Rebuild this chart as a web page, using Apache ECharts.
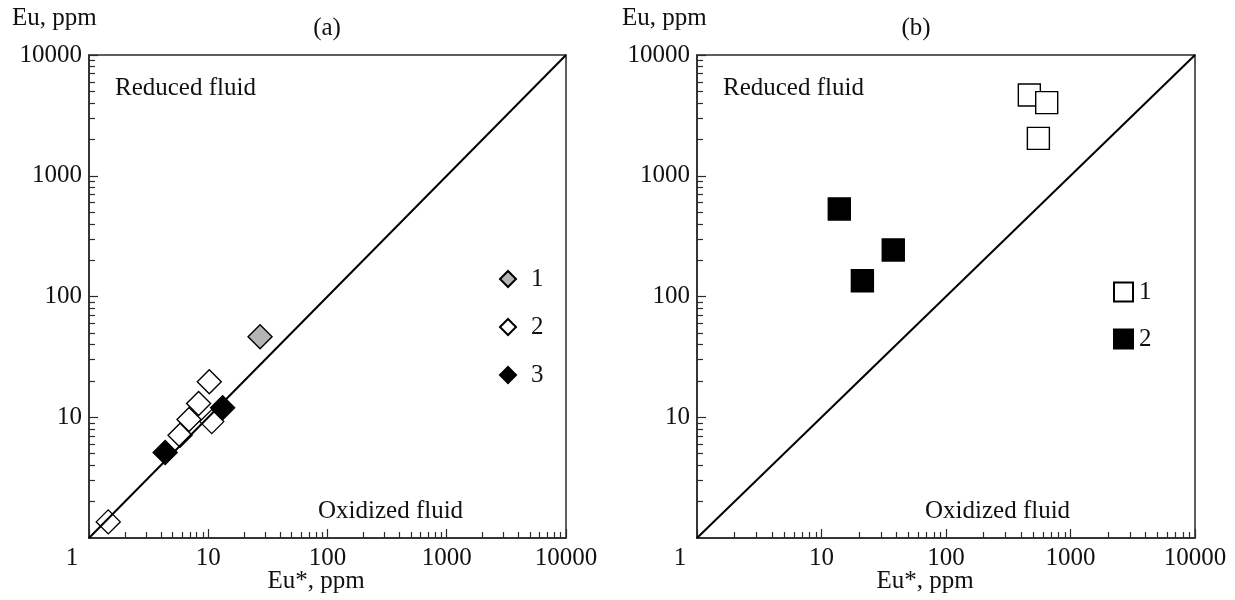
<!DOCTYPE html>
<html>
<head>
<meta charset="utf-8">
<script src="https://cdn.jsdelivr.net/npm/echarts@6/dist/echarts.min.js"></script>
<style>
  html, body { margin: 0; padding: 0; background: #fff; }
  #wrap { position: relative; width: 1235px; height: 600px; }
  #panelA { position: absolute; left: 0; top: 0; width: 617px; height: 600px; }
  #panelB { position: absolute; left: 617px; top: 0; width: 618px; height: 600px; }
</style>
</head>
<body>
<div id="wrap">
  <div id="panelA"></div>
  <div id="panelB"></div>
</div>
<script>
// Decade ticks shared by both log axes (Eu* on x, Eu on y)
const tickValues = [1, 10, 100, 1000, 10000];
const tickLabels = ['1', '10', '100', '1000', '10000'];
// Minor tick multipliers inside each decade
const minorSteps = [2, 3, 4, 5, 6, 7, 8, 9];

// Panel (a): [Eu*, Eu] in ppm
const a1 = [[27.2, 46.5]];
const a2 = [[10.2, 19.7], [8.3, 13.0], [6.9, 9.6], [10.7, 9.2], [5.8, 7.1], [1.45, 1.36]];
const a3 = [[13.2, 12.0], [4.35, 5.1]];

// Panel (b): [Eu*, Eu] in ppm
const b1 = [[467, 4670], [644, 4030], [552, 2040]];
const b2 = [[13.9, 531], [37.7, 243], [21.3, 135]];

// Eu = Eu* reference line
const diagonal = [[1, 1], [10000, 10000]];

const FONT = "'Liberation Serif', 'Times New Roman', serif";
const INK = '#111';
const FRAME = '#2a2a2a';

// Minor tick positions in decade units (log10 of the value),
// placed on a hidden linear axis that spans the same 0..4 decades.
const minorExp = [];
for (let d = 0; d < tickValues.length - 1; d++) {
  minorSteps.forEach(function (m) { minorExp.push(Math.log10(tickValues[d] * m)); });
}

function labelFor(v) {
  const i = tickValues.indexOf(v);
  return i >= 0 ? tickLabels[i] : '';
}

function logAxis(isX) {
  return {
    type: 'log',
    logBase: 10,
    min: tickValues[0],
    max: tickValues[tickValues.length - 1],
    position: isX ? 'bottom' : 'left',
    axisLine: { show: true, lineStyle: { color: FRAME, width: 1.5 } },
    axisTick: { show: true, inside: true, length: 9, lineStyle: { color: FRAME, width: 1.2 } },
    minorTick: { show: false },
    splitLine: { show: false },
    axisLabel: {
      show: true,
      color: INK,
      fontFamily: FONT,
      fontSize: 25,
      margin: isX ? 8 : 7,
      showMinLabel: isX,
      formatter: isX
        ? function (v) { return v === 1 ? '{m|1}' : labelFor(v); }
        : function (v) { return labelFor(v); },
      rich: isX ? { m: { fontFamily: FONT, fontSize: 25, color: INK, padding: [0, 34, 0, 0] } } : {}
    }
  };
}

// Linear twin of a log axis, used only to draw the 2..9 minor ticks
function minorAxis(isX) {
  return {
    type: 'value',
    min: 0,
    max: tickValues.length - 1,
    position: isX ? 'bottom' : 'left',
    offset: 0,
    axisLine: { show: false },
    axisLabel: { show: false },
    splitLine: { show: false },
    axisTick: {
      show: true,
      inside: true,
      length: 6,
      customValues: minorExp,
      lineStyle: { color: FRAME, width: 1.2 }
    }
  };
}

function diagonalSeries() {
  return {
    type: 'line',
    data: diagonal,
    symbol: 'none',
    silent: true,
    z: 4,
    lineStyle: { color: '#000', width: 2 }
  };
}

function txt(text, x, y, align) {
  return {
    type: 'text',
    silent: true,
    style: {
      text: text, x: x, y: y,
      font: '25px ' + FONT,
      fill: INK,
      align: align || 'left',
      verticalAlign: 'middle'
    }
  };
}

function marker(name, data, symbol, size, fill) {
  return {
    name: name,
    type: 'scatter',
    data: data,
    symbol: symbol,
    symbolSize: size,
    z: 3,
    itemStyle: { color: fill, borderColor: '#000', borderWidth: 1.4, opacity: 1 }
  };
}

function legend(names, left, top, size, gap, textGap) {
  return {
    orient: 'vertical',
    left: left,
    top: top,
    data: names,
    itemWidth: size,
    itemHeight: size,
    itemGap: gap,
    selectedMode: false,
    textStyle: { fontFamily: FONT, fontSize: 25, color: INK, lineHeight: 26, padding: [0, 0, 0, textGap] }
  };
}

// Panel (a)
const chartA = echarts.init(document.getElementById('panelA'), null, { renderer: 'canvas' });
chartA.setOption({
  animation: false,
  grid: { left: 89, top: 55, width: 477, height: 483, show: true, borderColor: FRAME, borderWidth: 1.5, backgroundColor: 'transparent' },
  xAxis: [logAxis(true), minorAxis(true)],
  yAxis: [logAxis(false), minorAxis(false)],
  legend: legend(['1', '2', '3'], 494, 261, 16, 22, 10),
  graphic: [
    txt('Eu, ppm', 12, 18),
    txt('(a)', 327, 28, 'center'),
    txt('Reduced fluid', 115, 88),
    txt('Oxidized fluid', 318, 511),
    txt('Eu*, ppm', 316, 581, 'center')
  ],
  series: [
    marker('1', a1, 'diamond', 24, '#b4b4b4'),
    marker('2', a2, 'diamond', 24, '#ffffff'),
    marker('3', a3, 'diamond', 24, '#000000'),
    diagonalSeries()
  ]
});

// Panel (b)
const chartB = echarts.init(document.getElementById('panelB'), null, { renderer: 'canvas' });
chartB.setOption({
  animation: false,
  grid: { left: 80, top: 55, width: 498, height: 483, show: true, borderColor: FRAME, borderWidth: 1.5, backgroundColor: 'transparent' },
  xAxis: [logAxis(true), minorAxis(true)],
  yAxis: [logAxis(false), minorAxis(false)],
  legend: legend(['1', '2'], 491, 274, 19, 21, 1),
  graphic: [
    txt('Eu, ppm', 5, 18),
    txt('(b)', 299, 28, 'center'),
    txt('Reduced fluid', 106, 88),
    txt('Oxidized fluid', 308, 511),
    txt('Eu*, ppm', 308, 581, 'center')
  ],
  series: [
    marker('1', b1, 'rect', 22, '#ffffff'),
    marker('2', b2, 'rect', 22, '#000000'),
    diagonalSeries()
  ]
});
</script>
</body>
</html>
